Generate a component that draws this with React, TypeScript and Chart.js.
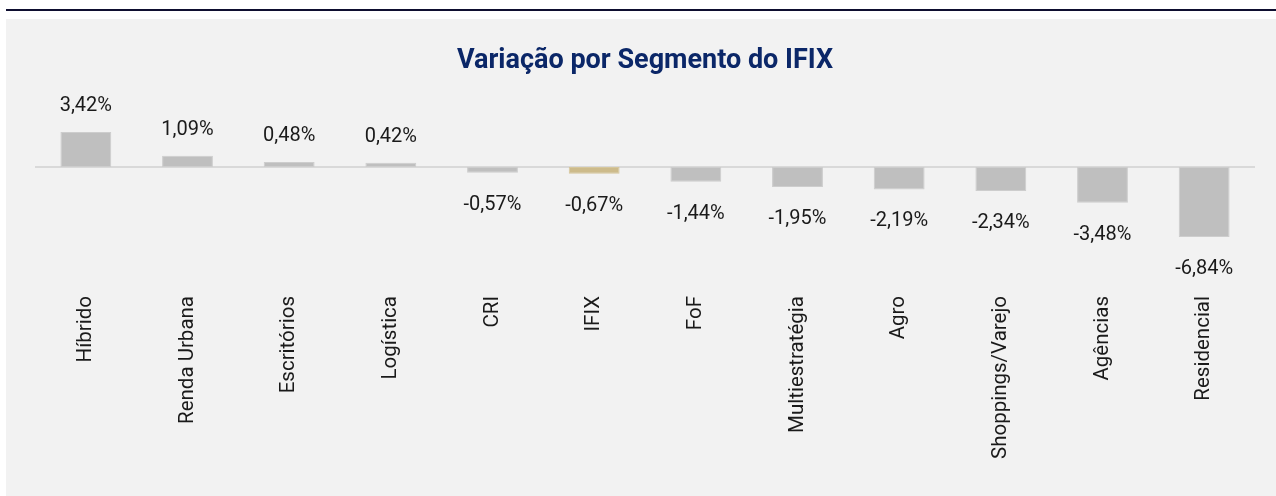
import React, { useEffect, useRef } from 'react';
import { Chart, registerables } from 'chart.js';

Chart.register(...registerables);

const categories = [
  'Híbrido',
  'Renda Urbana',
  'Escritórios',
  'Logística',
  'CRI',
  'IFIX',
  'FoF',
  'Multiestratégia',
  'Agro',
  'Shoppings/Varejo',
  'Agências',
  'Residencial',
];
const values = [3.42, 1.09, 0.48, 0.42, -0.57, -0.67, -1.44, -1.95, -2.19, -2.34, -3.48, -6.84];
const highlightCategory = 'IFIX';
const titleText = 'Variação por Segmento do IFIX';

const BAR_COLOR = '#bfbfbf';
const HIGHLIGHT_COLOR = '#cdbb8b';
const TEXT_COLOR = '#1a1a1a';
const FONT = 'Roboto';

const formatPct = (v: number) => v.toFixed(2).replace('.', ',') + '%';

const zeroLine = {
  id: 'zeroLine',
  beforeDatasetsDraw(chart: any) {
    const { ctx, chartArea, scales } = chart;
    const y = scales.y.getPixelForValue(0);
    ctx.save();
    ctx.strokeStyle = '#d9d9d9';
    ctx.lineWidth = 2;
    ctx.beginPath();
    ctx.moveTo(chartArea.left, y);
    ctx.lineTo(chartArea.right, y);
    ctx.stroke();
    ctx.restore();
  },
};

const valueLabels = {
  id: 'valueLabels',
  afterDatasetsDraw(chart: any) {
    const { ctx } = chart;
    const meta = chart.getDatasetMeta(0);
    ctx.save();
    ctx.font = `20px ${FONT}`;
    ctx.fillStyle = TEXT_COLOR;
    ctx.textAlign = 'center';
    ctx.textBaseline = 'alphabetic';
    meta.data.forEach((bar: any, i: number) => {
      const v = values[i];
      const y = v >= 0 ? bar.y - 21 : bar.y + 37;
      ctx.fillText(formatPct(v), bar.x, y);
    });
    ctx.restore();
  },
};

export default function App() {
  const canvasRef = useRef<HTMLCanvasElement | null>(null);

  useEffect(() => {
    if (!canvasRef.current) return;
    const chart = new Chart(canvasRef.current, {
      type: 'bar',
      data: {
        labels: categories,
        datasets: [
          {
            data: values,
            backgroundColor: categories.map((c) => (c === highlightCategory ? HIGHLIGHT_COLOR : BAR_COLOR)),
            borderColor: categories.map((c) => (c === highlightCategory ? '#d6c79c' : '#cdcdcd')),
            borderWidth: 1,
            borderSkipped: false,
            barPercentage: 0.5,
            categoryPercentage: 1,
          },
        ],
      },
      options: {
        animation: false,
        responsive: false,
        maintainAspectRatio: false,
        layout: { padding: { left: 35, right: 21, top: 0, bottom: 0 } },
        plugins: {
          legend: { display: false },
          tooltip: { enabled: false },
          title: {
            display: true,
            text: titleText,
            color: '#0b2768',
            font: { family: FONT, size: 27, weight: 'bold', lineHeight: 1.2 },
            padding: { top: 45, bottom: 7.6 },
          },
        },
        scales: {
          x: {
            grid: { display: false, drawTicks: false },
            border: { display: false },
            ticks: {
              autoSkip: false,
              minRotation: 90,
              maxRotation: 90,
              padding: 6,
              color: TEXT_COLOR,
              font: { family: FONT, size: 20.5 },
            },
            afterFit: (scale: any) => {
              scale.height = 206;
            },
          },
          y: {
            display: false,
            min: -12,
            max: 8,
          },
        },
      },
      plugins: [zeroLine, valueLabels],
    });
    return () => chart.destroy();
  }, []);

  return (
    <div style={{ position: 'absolute', left: 0, top: 0, width: 1276, height: 496, overflow: 'hidden' }}>
      <div style={{ position: 'absolute', left: 6, top: 9, width: 1270, height: 2, background: '#0e0e30' }} />
      <div style={{ position: 'absolute', left: 6, top: 19, width: 1270, height: 477, background: '#f2f2f2' }} />
      <canvas
        ref={canvasRef}
        width={1276}
        height={496}
        style={{ position: 'absolute', left: 0, top: 0, width: 1276, height: 496 }}
      />
    </div>
  );
}
